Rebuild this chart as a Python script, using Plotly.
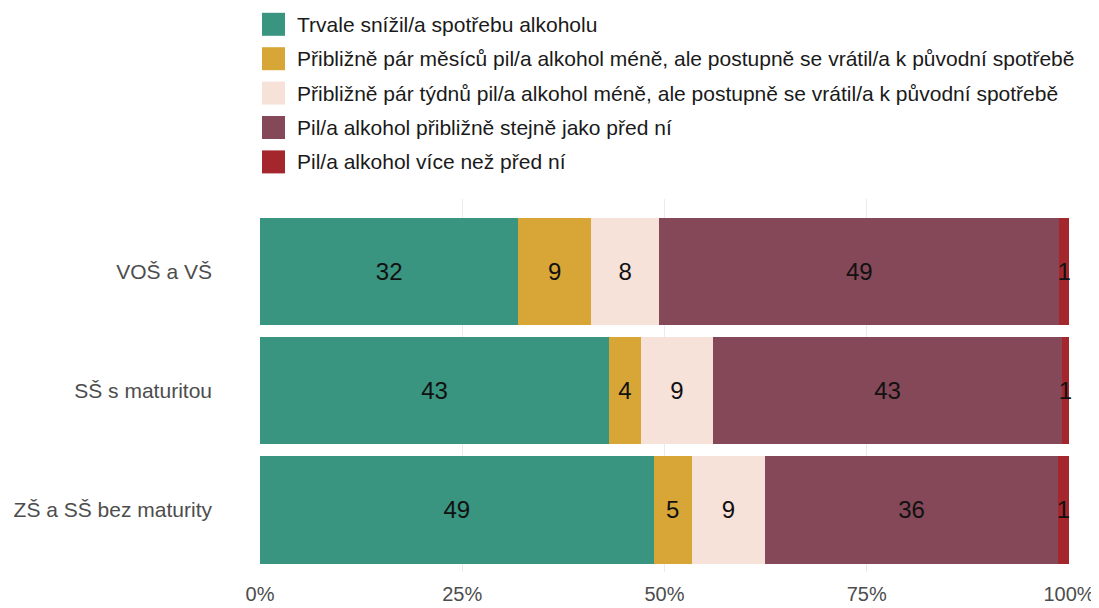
import plotly.graph_objects as go

# ---- data ----
categories = ["VOŠ a VŠ", "SŠ s maturitou", "ZŠ a SŠ bez maturity"]
series_names = [
    "Trvale snížil/a spotřebu alkoholu",
    "Přibližně pár měsíců pil/a alkohol méně, ale postupně se vrátil/a k původní spotřebě",
    "Přibližně pár týdnů pil/a alkohol méně, ale postupně se vrátil/a k původní spotřebě",
    "Pil/a alkohol přibližně stejně jako před ní",
    "Pil/a alkohol více než před ní",
]
trvale = [31.9, 43.2, 48.6]
mesice = [9.0, 3.9, 4.7]
tydny = [8.4, 9.0, 9.1]
stejne = [49.4, 43.1, 36.1]
vice = [1.2, 0.9, 1.4]
series_values = [trvale, mesice, tydny, stejne, vice]
x_tickvals = [0, 25, 50, 75, 100]
x_ticktext = ["0%", "25%", "50%", "75%", "100%"]

colors = ["#399480", "#D7A637", "#F7E2DA", "#844859", "#A4272E"]

# ---- layout geometry (the page body adds an 8px margin) ----
OFF = 8
W, H = 1099 - OFF, 608 - OFF
L, T = 260 - OFF, 199 - OFF
R = W - (1068.8 - OFF)
B = H - (572 - OFF)
pw = W - L - R
ph = H - T - B
FONT = "Liberation Sans, Arial, sans-serif"


def px_x(px):
    # px in window pixels
    return (px - OFF - L) / pw


def px_y(py):
    return (H - B - (py - OFF)) / ph


fig = go.Figure()
for name, vals, col in zip(series_names, series_values, colors):
    fig.add_trace(go.Bar(
        name=name,
        y=categories,
        x=vals,
        orientation="h",
        marker=dict(color=col, line=dict(width=0)),
        text=[str(int(round(v))) for v in vals],
        textposition="inside",
        insidetextanchor="middle",
        textangle=0,
        textfont=dict(size=24, color="#111111", family=FONT),
        cliponaxis=False,
        showlegend=False,
        hoverinfo="skip",
    ))

# custom legend (large squares like the reference)
shapes = []
annotations = []
for i, (name, col) in enumerate(zip(series_names, colors)):
    cy = 24.3 + 34.4 * i
    shapes.append(dict(
        type="rect", xref="paper", yref="paper",
        x0=px_x(262), x1=px_x(285), y0=px_y(cy + 11.5), y1=px_y(cy - 11.5),
        fillcolor=col, line=dict(width=0), layer="above",
    ))
    annotations.append(dict(
        xref="paper", yref="paper", x=px_x(295), y=px_y(cy),
        xanchor="left", yanchor="middle", showarrow=False,
        text=name, font=dict(size=21, color="#1a1a1a", family=FONT),
    ))

fig.update_layout(
    width=W, height=H,
    margin=dict(l=L, r=R, t=T, b=B, pad=0, autoexpand=False),
    barmode="stack",
    barnorm="percent",
    bargap=0.1,
    plot_bgcolor="white",
    paper_bgcolor="white",
    font=dict(family=FONT),
    uniformtext=dict(minsize=24, mode="show"),
    shapes=shapes,
    annotations=annotations,
    xaxis=dict(
        range=[0, 100],
        tickvals=x_tickvals,
        ticktext=x_ticktext,
        showgrid=True,
        gridcolor="#EBEBEB",
        gridwidth=1,
        zeroline=False,
        showline=False,
        ticks="",
        automargin=False,
        ticklabelstandoff=8,
        tickfont=dict(size=20, color="#4D4D4D", family=FONT),
        fixedrange=True,
    ),
    yaxis=dict(
        type="category",
        categoryorder="array",
        categoryarray=categories,
        range=[2.52, -0.607],
        showgrid=False,
        zeroline=False,
        showline=False,
        ticks="",
        automargin=False,
        ticklabelstandoff=47,
        tickfont=dict(size=21, color="#4D4D4D", family=FONT),
        fixedrange=True,
    ),
)

fig.write_html("out.html")
